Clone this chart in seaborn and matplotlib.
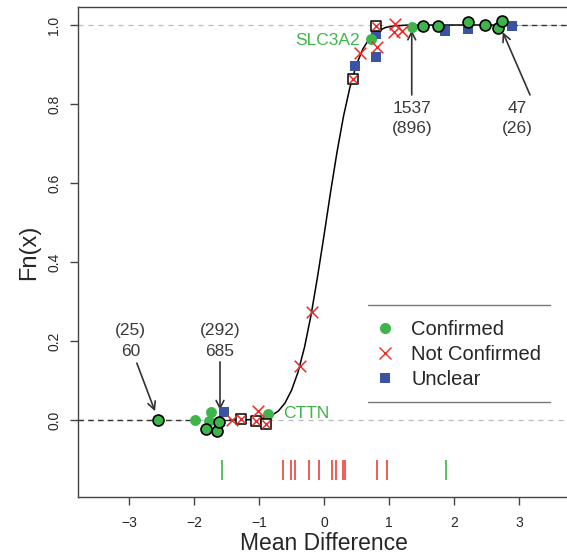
import numpy as np
import pandas as pd
import matplotlib
matplotlib.use("Agg")
import matplotlib.pyplot as plt
from matplotlib.lines import Line2D
import seaborn as sns

sns.set_theme(style="ticks")
plt.rcParams['font.family'] = ['Liberation Sans', 'DejaVu Sans']

GREEN = "#3DB54A"
RED = "#EE2A24"
BLUE = "#3A53A4"

# points
confirmed_x = [-1.99, -1.77, -1.74, -0.86, 0.73, 1.35]
confirmed_y = [0.0, -0.003, 0.02, 0.015, 0.965, 0.996]
confirmed_hl_x = [-2.56, -1.82, -1.65, -1.61, 1.53, 1.75, 2.22, 2.48, 2.67, 2.74]
confirmed_hl_y = [0.0, -0.024, -0.027, -0.004, 0.998, 0.998, 1.007, 0.999, 0.992, 1.011]
notconf_x = [-1.42, -1.01, -0.37, -0.19, 0.55, 0.81, 1.09, 1.07, 1.20]
notconf_y = [0.0, 0.024, 0.137, 0.273, 0.928, 0.944, 1.003, 0.983, 0.985]
notconf_hl_x = [-1.28, -1.04, -0.90, 0.44, 0.80]
notconf_hl_y = [0.002, -0.003, -0.010, 0.863, 0.998]
unclear_x = [-1.54, 0.47, 0.80, 0.80, 1.86, 2.21, 2.90]
unclear_y = [0.02, 0.897, 0.978, 0.920, 0.985, 0.989, 0.998]

# fitted cdf curve
curve_x = [-1.45, -1.2, -1.0, -0.9, -0.8, -0.7, -0.6, -0.5, -0.4, -0.3, -0.2, -0.1,
           0.0, 0.1, 0.2, 0.3, 0.4, 0.5, 0.6, 0.7, 0.8, 0.95, 1.1, 1.3, 1.6, 2.0, 2.9]
curve_y = [0.0, 0.0004, 0.0025, 0.006, 0.012, 0.023, 0.043, 0.075, 0.121, 0.184, 0.265, 0.362,
           0.467, 0.576, 0.678, 0.769, 0.843, 0.900, 0.940, 0.966, 0.982, 0.994, 0.998, 1.0, 1.0, 1.0, 1.0]

# rug of mean differences
rug_confirmed = [-1.57, 1.87]
rug_notconf = [-0.63, -0.51, -0.44, -0.23, -0.08, 0.12, 0.19, 0.30, 0.32, 0.81, 0.97]

XMIN, XMAX = -3.785, 3.785
YMIN, YMAX = -0.195, 1.0456

fig = plt.figure(figsize=(5.67, 5.55), dpi=100)
ax = fig.add_axes([78 / 567, 58 / 555, 492 / 567, 490 / 555])

# reference lines
for yy in (0.0, 1.0):
    ax.axhline(yy, color="#bbbbbb", lw=0.9, ls=(0, (4, 4)), zorder=1)
ax.plot([XMIN, curve_x[0]], [curve_y[0], curve_y[0]], color="#333333", lw=1, ls=(0, (4, 3)), zorder=2)
ax.plot([curve_x[-1], XMAX], [curve_y[-1], curve_y[-1]], color="#333333", lw=1, ls=(0, (4, 3)), zorder=2)

curve = pd.DataFrame({"x": curve_x, "y": curve_y})
sns.lineplot(data=curve, x="x", y="y", color="black", lw=1.1, ax=ax, zorder=3, sort=False)

df_u = pd.DataFrame({"x": unclear_x, "y": unclear_y})
df_c = pd.DataFrame({"x": confirmed_x, "y": confirmed_y})
df_ch = pd.DataFrame({"x": confirmed_hl_x, "y": confirmed_hl_y})
df_n = pd.DataFrame({"x": notconf_x, "y": notconf_y})
df_nh = pd.DataFrame({"x": notconf_hl_x, "y": notconf_hl_y})

sns.scatterplot(data=df_u, x="x", y="y", marker="s", s=48, color=BLUE, linewidth=0, ax=ax, zorder=4)
sns.scatterplot(data=df_c, x="x", y="y", marker="o", s=62, color=GREEN, linewidth=0, ax=ax, zorder=5)
sns.scatterplot(data=df_ch, x="x", y="y", marker="o", s=62, color=GREEN, edgecolor="black",
                linewidth=1.2, ax=ax, zorder=5)
sns.scatterplot(data=df_nh, x="x", y="y", marker="s", s=62, color="white", edgecolor="black",
                linewidth=1.1, ax=ax, zorder=6)
sns.scatterplot(data=df_nh, x="x", y="y", marker="x", s=34, color=RED, linewidth=1.1, ax=ax, zorder=7)
sns.scatterplot(data=df_n, x="x", y="y", marker="x", s=70, color=RED, linewidth=1.1, ax=ax, zorder=7)

# rug
ax.vlines(rug_confirmed, -0.152, -0.101, color=GREEN, lw=1.2, zorder=3)
ax.vlines(rug_notconf, -0.152, -0.101, color=RED, lw=1.2, alpha=0.9, zorder=3)

# gene labels
ax.text(0.55, 0.962, "SLC3A2", color=GREEN, fontsize=12.5, ha="right", va="center")
ax.text(-0.63, 0.017, "CTTN", color=GREEN, fontsize=12.5, ha="left", va="center")

# count annotations
TXT = "#3a3a3a"
arw = dict(arrowstyle="->", color="#333333", lw=1.2, shrinkA=0, shrinkB=0, mutation_scale=14)
ax.text(-2.98, 0.20, "(25)\n60", color=TXT, fontsize=12.5, ha="center", va="center", linespacing=1.45)
ax.annotate("", xy=(-2.60, 0.022), xytext=(-2.88, 0.144), arrowprops=arw)
ax.text(-1.60, 0.20, "(292)\n685", color=TXT, fontsize=12.5, ha="center", va="center", linespacing=1.45)
ax.annotate("", xy=(-1.60, 0.025), xytext=(-1.60, 0.147), arrowprops=arw)
ax.text(1.35, 0.763, "1537\n(896)", color=TXT, fontsize=12.5, ha="center", va="center", linespacing=1.45)
ax.annotate("", xy=(1.35, 0.987), xytext=(1.35, 0.823), arrowprops=arw)
ax.text(2.98, 0.763, "47\n(26)", color=TXT, fontsize=12.5, ha="center", va="center", linespacing=1.45)
ax.annotate("", xy=(2.75, 0.982), xytext=(3.17, 0.823), arrowprops=arw)

# legend
handles = [
    Line2D([], [], marker="o", color=GREEN, ls="none", markersize=8, markeredgewidth=0),
    Line2D([], [], marker="x", color=RED, ls="none", markersize=9, markeredgewidth=1.0),
    Line2D([], [], marker="s", color=BLUE, ls="none", markersize=7, markeredgewidth=0),
]
leg = ax.legend(handles, ["Confirmed", "Not Confirmed", "Unclear"], loc="upper left",
                bbox_to_anchor=(0.583, 0.381), frameon=False, fontsize=14.5,
                handlelength=1.0, handletextpad=0.8, labelspacing=0.3, borderpad=0)
ax.plot([0.68, 3.48], [0.292, 0.292], color="#777777", lw=1, zorder=2)
ax.plot([0.68, 3.48], [0.046, 0.046], color="#777777", lw=1, zorder=2)

ax.set_xlim(XMIN, XMAX)
ax.set_ylim(YMIN, YMAX)
ax.set_xticks([-3, -2, -1, 0, 1, 2, 3])
ax.set_xticklabels(["\u22123", "\u22122", "\u22121", "0", "1", "2", "3"])
ax.set_yticks([0.0, 0.2, 0.4, 0.6, 0.8, 1.0])
ax.set_yticklabels(["0.0", "0.2", "0.4", "0.6", "0.8", "1.0"], rotation=90, va="center")
ax.tick_params(axis="both", labelsize=10, length=6, width=1, color="#444444")
ax.tick_params(axis="x", pad=8)
ax.tick_params(axis="y", pad=6)
for sp in ax.spines.values():
    sp.set_color("#444444")
    sp.set_linewidth(1)
ax.set_xlabel("Mean Difference", fontsize=16.5, labelpad=1)
ax.set_ylabel("Fn(x)", fontsize=17, labelpad=5)

fig.savefig("out.png", dpi=100)
